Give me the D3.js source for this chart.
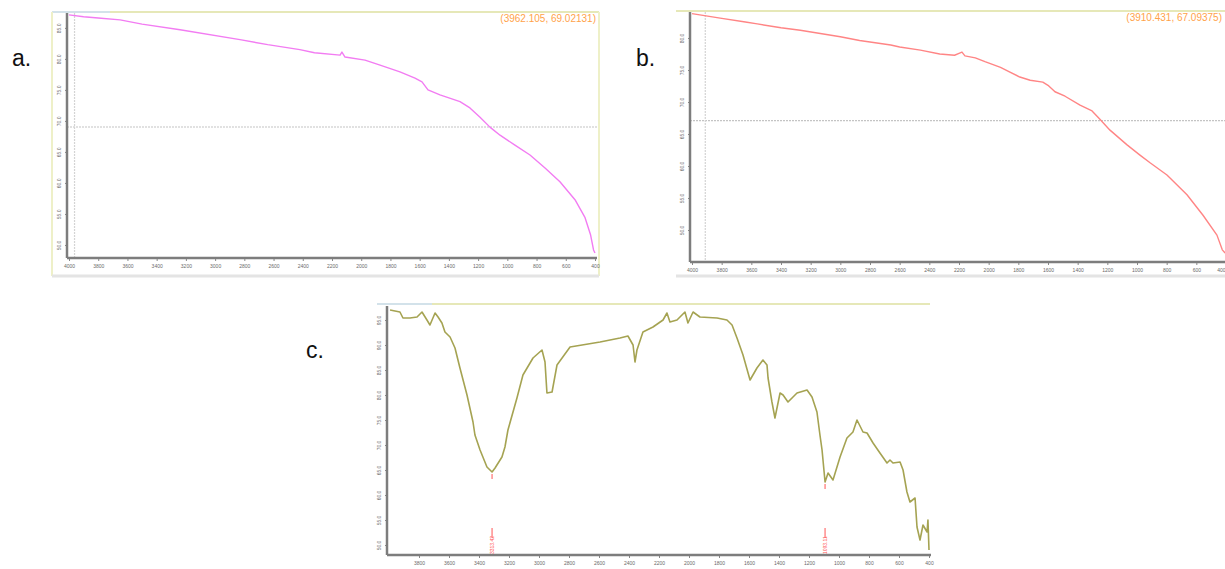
<!DOCTYPE html>
<html>
<head>
<meta charset="utf-8">
<script src="https://cdn.jsdelivr.net/npm/d3@7"></script>
<style>
body { margin: 0; background: #fff; }
</style>
</head>
<body>
<script>
// tick values
var xTicks = d3.range(4000, 399, -200);
var yTicksA = [85, 80, 75, 70, 65, 60, 55, 50];
var yTicksB = [80, 75, 70, 65, 60, 55, 50];
var yTicksC = [95, 90, 85, 80, 75, 70, 65, 60, 55, 50];

// spectra: [wavenumber, %T]
var spectrumA = [[4000,87.1],[3900,86.8],[3800,86.6],[3650,86.3],[3500,85.6],[3240,84.7],[2830,83.1],
    [2640,82.3],[2420,81.5],[2320,81.0],[2145,80.6],[2132,81.1],[2111,80.3],[1974,79.8],[1871,79.0],
    [1735,77.9],[1632,76.9],[1584,76.3],[1543,75.0],[1461,74.2],[1324,73.1],[1256,72.1],[1187,70.6],
    [1119,69.0],[1050,67.7],[948,66.1],[845,64.5],[742,62.4],[640,60.2],[537,57.3],[468,54.4],
    [430,51.6],[410,49.2],[400,48.7]];

var spectrumB = [[4000,83.8],[3810,83.1],[3640,82.5],[3560,82.2],[3400,81.6],[3270,81.2],[3000,80.2],
    [2870,79.6],[2660,78.9],[2600,78.6],[2460,78.1],[2330,77.5],[2230,77.3],[2200,77.6],[2180,77.8],
    [2160,77.2],[2090,76.9],[2025,76.3],[1920,75.4],[1860,74.7],[1790,73.9],[1720,73.4],[1635,73.1],
    [1600,72.6],[1553,71.6],[1485,70.9],[1384,69.5],[1303,68.6],[1250,67.3],[1182,65.6],[1067,63.3],
    [980,61.7],[912,60.5],[798,58.6],[663,55.5],[555,52.3],[461,49.2],[425,46.9],[406,46.4]];

var spectrumC = [[3993,97.0],[3927,96.6],[3907,95.4],[3860,95.4],[3813,95.6],[3780,96.6],[3747,95.0],
    [3727,94.0],[3693,96.4],[3673,95.6],[3647,94.4],[3627,92.6],[3593,91.6],[3560,89.4],[3527,85.4],
    [3480,80.0],[3440,74.6],[3427,72.0],[3393,69.0],[3347,65.6],[3313,64.6],[3293,65.4],[3247,67.6],
    [3227,69.6],[3207,73.0],[3147,79.4],[3107,84.0],[3040,87.4],[2980,89.0],[2960,86.6],[2947,80.4],
    [2913,80.6],[2880,86.0],[2793,89.6],[2593,90.6],[2460,91.4],[2407,91.8],[2373,90.0],[2360,86.6],
    [2347,89.0],[2307,92.6],[2240,93.6],[2173,95.0],[2147,96.4],[2127,94.6],[2080,95.0],[2027,96.6],
    [2007,94.4],[1973,96.6],[1927,95.6],[1813,95.4],[1747,95.0],[1713,94.0],[1680,91.4],[1640,88.0],
    [1593,83.0],[1547,85.4],[1507,87.0],[1480,86.0],[1473,83.4],[1447,78.6],[1427,75.4],[1393,80.4],
    [1373,80.0],[1340,78.6],[1280,80.4],[1213,81.0],[1180,79.6],[1147,76.6],[1127,72.0],[1113,69.0],
    [1093,62.6],[1073,64.4],[1040,63.0],[993,67.6],[947,71.4],[907,72.6],[880,75.0],[840,72.6],
    [813,72.4],[773,70.4],[727,68.4],[680,66.4],[660,67.0],[640,66.4],[593,66.6],[573,65.0],[547,60.6],
    [527,58.6],[493,59.4],[480,53.6],[460,51.0],[440,54.0],[413,52.6],[407,55.0],[400,49.0]];

var cursorA = [3962.105, 69.02131];
var cursorB = [3910.431, 67.09375];
var peaksC = [[3313, 64.6, "3313.42"], [1093, 62.6, "1093.11"]];

var svg = d3.select("body")
    .append("svg")
    .attr("width", 1225)
    .attr("height", 569)
    .style("font-family", "Liberation Sans, Arial, sans-serif");

function drawPanel(p) {
    var g = svg.append("g");

    var x = d3.scaleLinear().domain([4000, 400]).range(p.xRange);
    var y = d3.scaleLinear().domain(p.yDomain).range(p.yRange);

    // frame
    g.append("line")
        .attr("x1", p.frame[0]).attr("x2", p.frame[1])
        .attr("y1", p.frame[2]).attr("y2", p.frame[2])
        .attr("stroke", "#e6e8b8").attr("stroke-width", 2);
    if (p.blueTop) {
        g.append("line")
            .attr("x1", p.frame[0]).attr("x2", p.blueTop)
            .attr("y1", p.frame[2]).attr("y2", p.frame[2])
            .attr("stroke", "#d3e2ea").attr("stroke-width", 2);
    }
    if (p.sides) {
        g.append("line")
            .attr("x1", p.frame[0]).attr("x2", p.frame[0])
            .attr("y1", p.frame[2]).attr("y2", p.frame[3])
            .attr("stroke", "#eef0c8").attr("stroke-width", 2);
        g.append("line")
            .attr("x1", p.frame[1]).attr("x2", p.frame[1])
            .attr("y1", p.frame[2]).attr("y2", p.frame[3])
            .attr("stroke", "#eef0c8").attr("stroke-width", 2);
    }
    if (p.bottomFrame) {
        g.append("line")
            .attr("x1", p.frame[0]).attr("x2", p.frame[1])
            .attr("y1", p.frame[3]).attr("y2", p.frame[3])
            .attr("stroke", "#e4e4e4").attr("stroke-width", 3);
    }

    var left = p.xRange[0] - 2,
        right = Math.min(p.xRange[1] + 2, 1225),
        top = p.yRange[1],
        bottom = p.yRange[0];

    // cursor lines
    if (p.cursor) {
        g.append("line")
            .attr("x1", left).attr("x2", right)
            .attr("y1", y(p.cursor[1])).attr("y2", y(p.cursor[1]))
            .attr("stroke", "#c4c4c4").attr("stroke-width", 1.2)
            .attr("stroke-dasharray", "2,1");
        g.append("line")
            .attr("x1", x(p.cursor[0])).attr("x2", x(p.cursor[0]))
            .attr("y1", top).attr("y2", bottom)
            .attr("stroke", "#d4d4d4").attr("stroke-width", 1.2)
            .attr("stroke-dasharray", "2,1");
        g.append("text")
            .attr("x", p.frame[1] - 3)
            .attr("y", p.frame[2] + 10)
            .attr("text-anchor", "end")
            .style("font-size", "10px")
            .style("fill", "#ffa24a")
            .text("(" + p.cursor[0] + ", " + p.cursor[1] + ")");
    }

    // X-as
    var xAxis = g.append("g")
        .attr("transform", "translate(0," + bottom + ")")
        .call(d3.axisBottom(x).tickValues(p.xTicks).tickSize(3).tickSizeOuter(0).tickFormat(d3.format("d")));
    xAxis.select(".domain").remove();
    xAxis.selectAll("line").attr("stroke", "#888");
    xAxis.selectAll("text")
        .attr("y", 6)
        .style("font-size", "5px")
        .style("fill", "#6a6a6a");
    if (p.clipLast) {
        xAxis.selectAll("text")
            .filter(function(d) { return d === 400; })
            .attr("text-anchor", "end")
            .attr("x", -1);
    }

    // Y-as
    var yAxis = g.append("g")
        .attr("transform", "translate(" + left + ",0)")
        .call(d3.axisLeft(y).tickValues(p.yTicks).tickSize(2).tickFormat(d3.format(".1f")));
    yAxis.select(".domain").remove();
    yAxis.selectAll("line").attr("stroke", "#888");
    yAxis.selectAll("text")
        .attr("x", 0).attr("dy", 0)
        .attr("text-anchor", "middle")
        .attr("transform", "translate(-6,0) rotate(-90)")
        .style("font-size", "5px")
        .style("fill", "#6a6a6a");

    // axis lines
    g.append("line")
        .attr("x1", left).attr("x2", left)
        .attr("y1", top).attr("y2", bottom)
        .attr("stroke", "#7d7d7d").attr("stroke-width", 2.5);
    g.append("line")
        .attr("x1", left).attr("x2", right)
        .attr("y1", bottom).attr("y2", bottom)
        .attr("stroke", "#7d7d7d").attr("stroke-width", 2.5);

    // de lijn
    var line = d3.line()
        .x(function(d) { return x(d[0]); })
        .y(function(d) { return y(d[1]); });

    g.append("path")
        .datum(p.data)
        .attr("d", line)
        .attr("fill", "none")
        .attr("stroke", p.color)
        .attr("stroke-width", p.width)
        .attr("stroke-linejoin", "round");

    // peak markers
    if (p.peaks) {
        p.peaks.forEach(function(pk) {
            var px = x(pk[0]);
            g.append("line")
                .attr("x1", px).attr("x2", px)
                .attr("y1", y(pk[1]) + 2).attr("y2", y(pk[1]) + 7)
                .attr("stroke", "#ff5555").attr("stroke-width", 1);
            g.append("line")
                .attr("x1", px).attr("x2", px)
                .attr("y1", bottom - 27).attr("y2", bottom - 17)
                .attr("stroke", "#ff5555").attr("stroke-width", 1);
            g.append("text")
                .attr("transform", "translate(" + (px + 2) + "," + (bottom - 1) + ") rotate(-90)")
                .style("font-size", "5px")
                .style("fill", "#ff5555")
                .text(pk[2]);
        });
    }
}

drawPanel({
    data: spectrumA, color: "#f27cf2", width: 1.4,
    xRange: [69, 595], yDomain: [47.9, 87.4], yRange: [258, 13],
    xTicks: xTicks, yTicks: yTicksA,
    frame: [52, 599, 12, 276], sides: true, bottomFrame: true, blueTop: 110,
    cursor: cursorA
});

drawPanel({
    data: spectrumB, color: "#ff8585", width: 1.4,
    xRange: [692, 1226], yDomain: [45, 84.06], yRange: [262, 12],
    xTicks: xTicks, yTicks: yTicksB,
    frame: [676, 1225, 11, 276], sides: false, bottomFrame: true, clipLast: true,
    cursor: cursorB
});

drawPanel({
    data: spectrumC, color: "#a5a352", width: 1.6,
    xRange: [389, 929], yDomain: [48, 97.8], yRange: [555, 306],
    xTicks: xTicks.slice(1), yTicks: yTicksC,
    frame: [377, 930, 304, 569], sides: false, bottomFrame: false, blueTop: 432,
    peaks: peaksC
});

// panel letters
var letters = [["a.", 12, 66], ["b.", 636, 66], ["c.", 306, 358]];
svg.selectAll(".letter")
    .data(letters)
    .enter()
    .append("text")
    .attr("class", "letter")
    .attr("x", function(d) { return d[1]; })
    .attr("y", function(d) { return d[2]; })
    .style("font-size", "23px")
    .style("fill", "#111")
    .text(function(d) { return d[0]; });
</script>
</body>
</html>
